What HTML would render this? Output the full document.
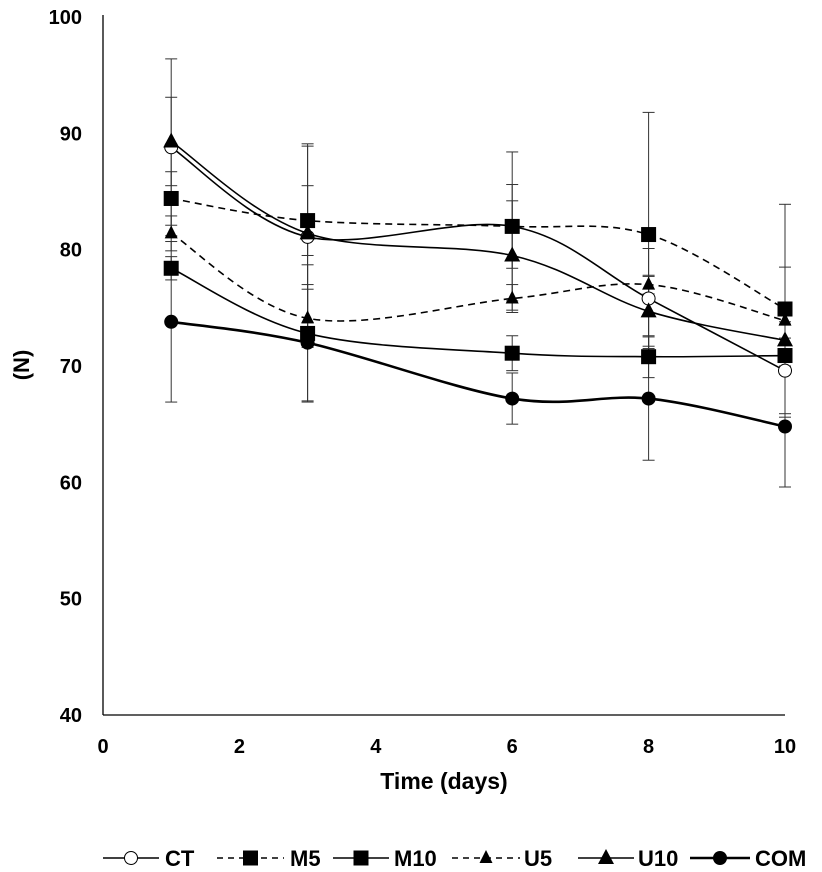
<!DOCTYPE html>
<html><head><meta charset="utf-8"><style>
html,body{margin:0;padding:0;background:#fff}
svg{display:block;font-family:"Liberation Sans",Arial,sans-serif;font-weight:bold}
</style></head><body>
<svg id="chart" width="822" height="872" viewBox="0 0 822 872" xmlns="http://www.w3.org/2000/svg">
<g id="axes"></g>
<g id="errs"></g>
<g id="series"></g>
<g id="legend"></g>
<text x="444" y="789" font-size="23" text-anchor="middle">Time (days)</text>
<text transform="translate(29,365) rotate(-90)" font-size="22" text-anchor="middle">(N)</text>
</svg>
<script>
const days = [1, 3, 6, 8, 10];
const xTicks = [0, 2, 4, 6, 8, 10];
const yTicks = [40, 50, 60, 70, 80, 90, 100];
const seriesNames = ["CT", "M5", "M10", "U5", "U10", "COM"];
const ctVals  = [88.8, 81.1, 82.0, 75.8, 69.6];
const m5Vals  = [84.4, 82.5, 82.0, 81.3, 74.9];
const m10Vals = [78.4, 72.8, 71.1, 70.8, 70.9];
const u5Vals  = [81.4, 74.1, 75.8, 77.0, 73.9];
const u10Vals = [89.3, 81.4, 79.5, 74.7, 72.2];
const comVals = [73.8, 72.0, 67.2, 67.2, 64.8];
const ctErr  = [7.6, 7.8, 6.4, 4.3, 4.0];
const m5Err  = [2.3, 3.0, 3.6, 10.5, 9.0];
const m10Err = [1.0, 5.9, 1.5, 1.8, 1.5];
const u5Err  = [1.5, 2.5, 1.2, 0.8, 4.6];
const u10Err = [3.8, 7.7, 4.7, 3.0, 1.6];
const comErr = [6.9, 5.0, 2.2, 5.3, 5.2];

const X0=103, X1=785, Y0=715, Y1=17;
const sx = v => X0 + (v-0)/(10-0)*(X1-X0);
const sy = v => Y0 - (v-40)/(100-40)*(Y0-Y1);
const NS="http://www.w3.org/2000/svg";
function mk(tag, attrs, parent){const e=document.createElementNS(NS,tag);for(const k in attrs)e.setAttribute(k,attrs[k]);parent.appendChild(e);return e;}

const axes=document.getElementById('axes');
let l=mk('line',{x1:X0,y1:15,x2:X0,y2:Y0,stroke:'#000','stroke-width':1.3},axes);


l=mk('line',{x1:X0,y1:Y0,x2:X1,y2:Y0,stroke:'#000','stroke-width':1.3},axes);


yTicks.forEach(t=>{const e=mk('text',{x:82,y:sy(t)+7,'font-size':20,'text-anchor':'end'},axes);e.textContent=t;

});
xTicks.forEach(t=>{const e=mk('text',{x:sx(t),y:753,'font-size':20,'text-anchor':'middle'},axes);e.textContent=t;

});

const data=[
 {n:"CT",v:ctVals,e:ctErr,dash:null,m:'circle-open',w:1.6},
 {n:"M5",v:m5Vals,e:m5Err,dash:'7,5',m:'square',w:1.6},
 {n:"M10",v:m10Vals,e:m10Err,dash:null,m:'square',w:1.6},
 {n:"U5",v:u5Vals,e:u5Err,dash:'7,5',m:'tri-small',w:1.6},
 {n:"U10",v:u10Vals,e:u10Err,dash:null,m:'tri',w:1.6},
 {n:"COM",v:comVals,e:comErr,dash:null,m:'circle',w:2.6}
];
const errs=document.getElementById('errs');
data.forEach(s=>{s.v.forEach((v,i)=>{const x=sx(days[i]),t=sy(v+s.e[i]),b=sy(v-s.e[i]);
 const g=mk('g',{stroke:'#333','stroke-width':1},errs);
 
 
 mk('line',{x1:x,y1:t,x2:x,y2:b},g);mk('line',{x1:x-6,y1:t,x2:x+6,y2:t},g);mk('line',{x1:x-6,y1:b,x2:x+6,y2:b},g);});});

function smooth(pts){let d=`M${pts[0][0]},${pts[0][1]}`;
 for(let i=0;i<pts.length-1;i++){const p0=pts[i-1]||pts[i],p1=pts[i],p2=pts[i+1],p3=pts[i+2]||p2;
  const c1=[p1[0]+(p2[0]-p0[0])/6,p1[1]+(p2[1]-p0[1])/6],c2=[p2[0]-(p3[0]-p1[0])/6,p2[1]-(p3[1]-p1[1])/6];
  d+=` C${c1[0]},${c1[1]} ${c2[0]},${c2[1]} ${p2[0]},${p2[1]}`;}return d;}
function marker(type,x,y,parent){
 if(type==='circle-open')return mk('circle',{cx:x,cy:y,r:6.5,fill:'#fff',stroke:'#000','stroke-width':1},parent);
 if(type==='circle')return mk('circle',{cx:x,cy:y,r:7,fill:'#000'},parent);
 if(type==='square')return mk('rect',{x:x-7.5,y:y-7.5,width:15,height:15,fill:'#000'},parent);
 if(type==='tri')return mk('polygon',{points:`${x},${y-9} ${x+8},${y+6} ${x-8},${y+6}`,fill:'#000'},parent);
 return mk('polygon',{points:`${x},${y-8} ${x+6.5},${y+5} ${x-6.5},${y+5}`,fill:'#000'},parent);}
const ser=document.getElementById('series');
data.forEach(s=>{const g=mk('g',{},ser);
 
 
 const pts=s.v.map((v,i)=>[sx(days[i]),sy(v)]);
 const p=mk('path',{d:smooth(pts),fill:'none',stroke:'#000','stroke-width':s.w},g);
 if(s.dash)p.setAttribute('stroke-dasharray',s.dash);
 
 
 pts.forEach(q=>{const m=marker(s.m,q[0],q[1],g);
  
  });});

const leg=document.getElementById('legend');
const legX=[[103,159,165],[217,284,290],[333,389,394],[452,520,524],[578,634,638],[690,750,755]];
data.forEach((s,i)=>{const [a,b,tx]=legX[i];const y=858;const g=mk('g',{},leg);
 
 
 const ln=mk('line',{x1:a,y1:y,x2:b,y2:y,stroke:'#000','stroke-width':s.w},g);
 if(s.dash)ln.setAttribute('stroke-dasharray','6,5');
 marker(s.m,(a+b)/2,y,g);
 const t=mk('text',{x:tx,y:y+8,'font-size':22},g);t.textContent=s.n;});
</script>
</body></html>
